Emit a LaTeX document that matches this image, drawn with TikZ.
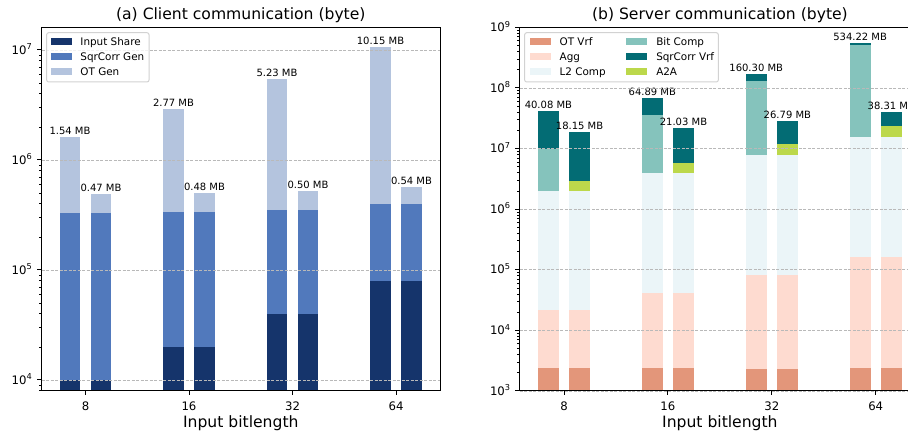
\documentclass[tikz,border=0pt]{standalone}
\usepackage{fontspec}
\setmainfont{DejaVu Sans}
\usepackage{xcolor}
\usepackage{tikz}
\usetikzlibrary{positioning}

\definecolor{inshare}{HTML}{15346B}
\definecolor{sqrgen}{HTML}{5179BC}
\definecolor{otgen}{HTML}{B4C4DE}
\definecolor{otvrf}{HTML}{E3967A}
\definecolor{agg}{HTML}{FEDBD0}
\definecolor{ltcomp}{HTML}{EBF5F8}
\definecolor{bitcomp}{HTML}{85C3BC}
\definecolor{sqrvrf}{HTML}{036C74}
\definecolor{atoa}{HTML}{BCD84B}

% data -> picture coordinates (log10 of bytes on y)
\newcommand{\xA}[1]{85.5+103.5*(#1)}
\newcommand{\yA}[1]{45+110*((#1)-3.9)}
\newcommand{\xB}[1]{564+103.9*(#1)}
\newcommand{\yB}[1]{45+60.62*((#1)-3)}

\tikzset{
    gridline/.style={gray!55, line width=0.7pt, dash pattern=on 3pt off 1.5pt},
    axframe/.style={line width=1pt},
    majortick/.style={line width=1pt},
    minortick/.style={line width=0.7pt},
    ticklabel/.style={font=\fontsize{11.7}{14}\selectfont, inner sep=0pt},
    barlabel/.style={font=\fontsize{10}{12}\selectfont, inner sep=0pt, anchor=base},
    axtitle/.style={font=\fontsize{15.6}{18}\selectfont, inner sep=0pt, anchor=base},
    legbox/.style={draw=gray!35, fill=white, fill opacity=0.8, rounded corners=2pt, line width=1pt},
    legpatch/.style={minimum width=20.7pt, minimum height=7.3pt, inner sep=0pt},
    legtext/.style={font=\fontsize{10.4}{12}\selectfont, inner sep=0pt, text height=7.6pt, text depth=0pt}
}

\begin{document}
\begin{tikzpicture}[x=1pt, y=1pt]
    \clip (0,0) rectangle (908,436);

    % (a) client bars
    \foreach \grp/\is/\sq/\ta/\tb/\la/\lb in {0/4.000/5.515/6.208/5.693/1.54/0.47,
            1/4.301/5.527/6.463/5.702/2.77/0.48, 2/4.602/5.545/6.739/5.720/5.23/0.50,
            3/4.903/5.600/7.027/5.753/10.15/0.54}{
        \fill[inshare] ({\xA{\grp-0.25}},45) rectangle ({\xA{\grp-0.05}},{\yA{\is}});
        \fill[sqrgen] ({\xA{\grp-0.25}},{\yA{\is}}) rectangle ({\xA{\grp-0.05}},{\yA{\sq}});
        \fill[otgen] ({\xA{\grp-0.25}},{\yA{\sq}}) rectangle ({\xA{\grp-0.05}},{\yA{\ta}});
        \fill[inshare] ({\xA{\grp+0.05}},45) rectangle ({\xA{\grp+0.25}},{\yA{\is}});
        \fill[sqrgen] ({\xA{\grp+0.05}},{\yA{\is}}) rectangle ({\xA{\grp+0.25}},{\yA{\sq}});
        \fill[otgen] ({\xA{\grp+0.05}},{\yA{\sq}}) rectangle ({\xA{\grp+0.25}},{\yA{\tb}});
        \node[barlabel] (topA\grp a) at ({\xA{\grp-0.15}},{\yA{\ta}+2.3}) {\la\ MB};
        \node[barlabel] (topA\grp b) at ({\xA{\grp+0.15}},{\yA{\tb}+2.3}) {\lb\ MB};
    }

    % (b) server bars
    \foreach \grp/\vo/\vg/\vl/\vb/\ta/\va/\tb/\la/\lb in {
            0/3.380/4.335/6.297/6.989/7.624/6.461/7.280/40.08/18.15,
            1/3.380/4.615/6.593/7.549/7.833/6.758/7.343/64.89/21.03,
            2/3.363/4.912/6.890/8.110/8.226/7.071/7.449/160.30/26.79,
            3/3.380/5.209/7.187/8.703/8.748/7.368/7.604/534.22/38.31}{
        \fill[otvrf] ({\xB{\grp-0.25}},45) rectangle ({\xB{\grp-0.05}},{\yB{\vo}});
        \fill[agg] ({\xB{\grp-0.25}},{\yB{\vo}}) rectangle ({\xB{\grp-0.05}},{\yB{\vg}});
        \fill[ltcomp] ({\xB{\grp-0.25}},{\yB{\vg}}) rectangle ({\xB{\grp-0.05}},{\yB{\vl}});
        \fill[bitcomp] ({\xB{\grp-0.25}},{\yB{\vl}}) rectangle ({\xB{\grp-0.05}},{\yB{\vb}});
        \fill[sqrvrf] ({\xB{\grp-0.25}},{\yB{\vb}}) rectangle ({\xB{\grp-0.05}},{\yB{\ta}});
        \fill[otvrf] ({\xB{\grp+0.05}},45) rectangle ({\xB{\grp+0.25}},{\yB{\vo}});
        \fill[agg] ({\xB{\grp+0.05}},{\yB{\vo}}) rectangle ({\xB{\grp+0.25}},{\yB{\vg}});
        \fill[ltcomp] ({\xB{\grp+0.05}},{\yB{\vg}}) rectangle ({\xB{\grp+0.25}},{\yB{\vl}});
        \fill[atoa] ({\xB{\grp+0.05}},{\yB{\vl}}) rectangle ({\xB{\grp+0.25}},{\yB{\va}});
        \fill[sqrvrf] ({\xB{\grp+0.05}},{\yB{\va}}) rectangle ({\xB{\grp+0.25}},{\yB{\tb}});
        \node[barlabel] (topB\grp a) at ({\xB{\grp-0.15}},{\yB{\ta}+2.3}) {\la\ MB};
        \node[barlabel] (topB\grp b) at ({\xB{\grp+0.15}},{\yB{\tb}+2.3}) {\lb\ MB};
    }

    % grid, frames, ticks
    \foreach \e in {4,...,7}{
        \draw[gridline] (41.5,{\yA{\e}}) -- (440,{\yA{\e}});
        \draw[majortick] (41.5,{\yA{\e}}) -- (37,{\yA{\e}});
        \node[ticklabel, anchor=base east] (ytA\e) at (32.5,{\yA{\e}-4.2}) {10\textsuperscript{\e}};
    }
    \foreach \e in {3,...,9}{
        \draw[gridline] (519.8,{\yB{\e}}) -- (920,{\yB{\e}});
        \draw[majortick] (519.8,{\yB{\e}}) -- (515.3,{\yB{\e}});
        \node[ticklabel, anchor=base east] (ytB\e) at (510.8,{\yB{\e}-4.2}) {10\textsuperscript{\e}};
    }
    \foreach \e in {3,...,6}
        \foreach \m in {2,...,9}{
            \pgfmathparse{(\e+log10(\m))>3.9 ? 1 : 0}
            \ifnum\pgfmathresult=1
                \draw[minortick] (41.5,{\yA{\e+log10(\m)}}) -- (38.9,{\yA{\e+log10(\m)}});
            \fi
        }
    \foreach \e in {3,...,8}
        \foreach \m in {2,...,9}
            \draw[minortick] (519.8,{\yB{\e+log10(\m)}}) -- (517.2,{\yB{\e+log10(\m)}});
    \foreach \grp/\bits in {0/8, 1/16, 2/32, 3/64}{
        \draw[majortick] ({\xA{\grp}},45) -- ({\xA{\grp}},40.5);
        \node[ticklabel, anchor=base] (xtA\grp) at ({\xA{\grp}},25) {\bits};
        \draw[majortick] ({\xB{\grp}},45) -- ({\xB{\grp}},40.5);
        \node[ticklabel, anchor=base] (xtB\grp) at ({\xB{\grp}},25) {\bits};
    }
    \draw[axframe] (41.5,45) rectangle (440,408.7);
    \draw[axframe] (519.8,45) rectangle (920,408.7);

    % titles and axis labels
    \node[axtitle] (titleA) at (240.8,416.7) {(a) Client communication (byte)};
    \node[axtitle] (titleB) at (719.9,416.7) {(b) Server communication (byte)};
    \node[axtitle] (xlabA) at (240.8,8) {Input bitlength};
    \node[axtitle] (xlabB) at (719.9,8) {Input bitlength};

    % legend (a)
    \draw[legbox] (46.7,354) rectangle (149,403.3);
    \node[legpatch, fill=inshare] (keyA1) at (61.3,394.3) {};
    \node[legpatch, fill=sqrgen] (keyA2) at (61.3,379.3) {};
    \node[legpatch, fill=otgen] (keyA3) at (61.3,364.3) {};
    \node[legtext, right=8.4pt of keyA1] (txtA1) {Input Share};
    \node[legtext, right=8.4pt of keyA2] (txtA2) {SqrCorr Gen};
    \node[legtext, right=8.4pt of keyA3] (txtA3) {OT Gen};

    % legend (b)
    \draw[legbox] (524.7,354) rectangle (718.3,403.3);
    \node[legpatch, fill=otvrf] (keyB1) at (540.3,394.3) {};
    \node[legpatch, fill=agg] (keyB2) at (540.3,379.3) {};
    \node[legpatch, fill=ltcomp] (keyB3) at (540.3,364.3) {};
    \node[legpatch, fill=bitcomp] (keyB4) at (636.2,394.3) {};
    \node[legpatch, fill=sqrvrf] (keyB5) at (636.2,379.3) {};
    \node[legpatch, fill=atoa] (keyB6) at (636.2,364.3) {};
    \node[legtext, right=8.6pt of keyB1] (txtB1) {OT Vrf};
    \node[legtext, right=8.6pt of keyB2] (txtB2) {Agg};
    \node[legtext, right=8.6pt of keyB3] (txtB3) {L2 Comp};
    \node[legtext, right=9.3pt of keyB4] (txtB4) {Bit Comp};
    \node[legtext, right=9.3pt of keyB5] (txtB5) {SqrCorr Vrf};
    \node[legtext, right=9.3pt of keyB6] (txtB6) {A2A};
\end{tikzpicture}
\end{document}
